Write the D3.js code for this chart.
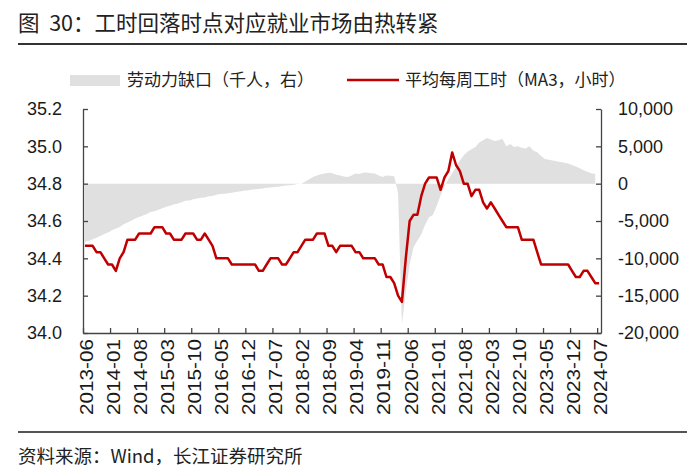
<!DOCTYPE html>
<html>
<head>
<meta charset="utf-8">
<script src="https://cdn.jsdelivr.net/npm/d3@7"></script>
<style>
  body { margin: 0; background: #fff; }
  svg { display: block; }
</style>
</head>
<body>
<div id="chart"></div>
<script>
// first month of the series, one value per month up to 2024-07
const startMonth = '2013-06'

// x tick labels, every 7 months
const tickLabels = [
  '2013-06', '2014-01', '2014-08', '2015-03', '2015-10', '2016-05', '2016-12',
  '2017-07', '2018-02', '2018-09', '2019-04', '2019-11', '2020-06', '2021-01',
  '2021-08', '2022-03', '2022-10', '2023-05', '2023-12', '2024-07'
]

// average weekly hours, 3 month moving average (left axis)
const hours = [
  34.467, 34.467, 34.467, 34.433, 34.433, 34.4, 34.367,
  34.367, 34.333, 34.4, 34.433, 34.5, 34.5, 34.5, 34.533, 34.533, 34.533, 34.533, 34.567,
  34.567, 34.567, 34.533, 34.533, 34.5, 34.5, 34.5, 34.533, 34.533, 34.533, 34.5, 34.5,
  34.533, 34.5, 34.467, 34.4, 34.4, 34.4, 34.4, 34.367, 34.367, 34.367, 34.367, 34.367,
  34.367, 34.367, 34.333, 34.333, 34.367, 34.4, 34.4, 34.4, 34.367, 34.367, 34.4, 34.433,
  34.433, 34.467, 34.5, 34.5, 34.5, 34.533, 34.533, 34.533, 34.467, 34.467, 34.433, 34.467,
  34.467, 34.467, 34.467, 34.433, 34.433, 34.4, 34.4, 34.4, 34.4, 34.367, 34.367, 34.3,
  34.3, 34.267, 34.2, 34.167, 34.4, 34.6, 34.633, 34.633, 34.733, 34.8, 34.833, 34.833,
  34.833, 34.767, 34.833, 34.867, 34.967, 34.9, 34.867, 34.8, 34.8, 34.733, 34.767, 34.767,
  34.7, 34.667, 34.7, 34.667, 34.633, 34.6, 34.567, 34.567, 34.567, 34.567, 34.5, 34.5,
  34.5, 34.5, 34.433, 34.367, 34.367, 34.367, 34.367, 34.367, 34.367, 34.367, 34.367, 34.333,
  34.3, 34.3, 34.333, 34.333, 34.3, 34.267, 34.267
]

// labour gap, thousands (right axis); last month not yet out
const labourGap = [
  -7800, -7650, -7450, -7250, -7000, -6750, -6550,
  -6250, -6000, -5800, -5450, -5200, -4950, -4650, -4450, -4250, -4050, -3800, -3700,
  -3500, -3300, -3100, -2950, -2800, -2650, -2500, -2300, -2250, -2100, -2000, -1900,
  -1850, -1700, -1650, -1500, -1400, -1350, -1300, -1200, -1100, -1050, -950, -900,
  -800, -750, -700, -650, -550, -500, -450, -400, -300, -250, -200, -150,
  -50, 0, 300, 600, 900, 1100, 1250, 1350, 1450, 1400, 1200, 1100,
  950, 900, 1100, 1350, 1300, 1450, 1500, 1400, 1350, 1100, 900, 1100,
  1050, 1000, -1300, -18800, -14500, -10800, -8500, -7600, -6800, -5500, -4500, -4200,
  -3000, -1600, -300, 600, 1400, 2200, 3100, 3800, 4300, 4600, 4900, 5500,
  5800, 6100, 5900, 5700, 5800, 6000, 5000, 5300, 4900, 5000, 4800, 4700,
  5000, 4400, 4200, 3700, 3300, 3200, 3100, 3000, 2900, 2800, 2700, 2500,
  2300, 2050, 1800, 1600, 1400, 1300, null
]

const leftTicks = [34.0, 34.2, 34.4, 34.6, 34.8, 35.0, 35.2]
const rightTicks = [-20000, -15000, -10000, -5000, 0, 5000, 10000]

const width = 700
const height = 471

// plot box
const plot = { left: 83, right: 601, top: 109, bottom: 333 }

const n = hours.length
const x = d3.scaleLinear().domain([0, n]).range([plot.left, plot.right])
const yL = d3.scaleLinear().domain([34.0, 35.2]).range([plot.bottom, plot.top])
const yR = d3.scaleLinear().domain([-20000, 10000]).range([plot.bottom, plot.top])

const cjk = '"Noto Sans CJK SC", "Noto Sans", sans-serif'
const latin = '"Liberation Sans", Arial, sans-serif'
const axisColor = '#444'
const red = '#c00000'
const grey = '#e0e0e0'

const svg = d3.select('#chart').append('svg').attr('width', width).attr('height', height)

// ----- title + rules -----
svg.append('text')
  .attr('x', 18).attr('y', 31)
  .attr('font-family', cjk).attr('font-size', 21.5).attr('fill', '#222')
  .attr('xml:space', 'preserve')
  .text('图  30：工时回落时点对应就业市场由热转紧')

svg.append('line').attr('x1', 18).attr('x2', 687).attr('y1', 44).attr('y2', 44)
  .attr('stroke', '#333').attr('stroke-width', 1.8)

svg.append('line').attr('x1', 18).attr('x2', 687).attr('y1', 432).attr('y2', 432)
  .attr('stroke', '#555').attr('stroke-width', 1.8)

svg.append('text')
  .attr('x', 18).attr('y', 457).attr('dy', '0.35em')
  .attr('font-family', cjk).attr('font-size', 18.5).attr('fill', '#222')
  .text('资料来源：Wind，长江证券研究所')

// ----- legend -----
const legend = svg.append('g').attr('font-family', cjk).attr('font-size', 17).attr('fill', '#222')
legend.append('rect').attr('x', 70).attr('y', 75).attr('width', 50).attr('height', 11).attr('fill', grey)
legend.append('text').attr('x', 127).attr('y', 80).attr('dy', '0.35em').text('劳动力缺口（千人，右）')
legend.append('line').attr('x1', 347).attr('x2', 399).attr('y1', 80).attr('y2', 80)
  .attr('stroke', red).attr('stroke-width', 2.5)
legend.append('text').attr('x', 405).attr('y', 80).attr('dy', '0.35em').text('平均每周工时（MA3，小时）')

// ----- series -----
const cx = i => x(i + 0.5)

const area = d3.area()
  .defined(d => d != null)
  .x((d, i) => cx(i))
  .y0(yR(0))
  .y1(d => yR(d))

svg.append('path')
  .datum(labourGap)
  .attr('d', area)
  .attr('fill', grey)

const line = d3.line()
  .x((d, i) => cx(i))
  .y(d => yL(d))

svg.append('path')
  .datum(hours)
  .attr('d', line)
  .attr('fill', 'none')
  .attr('stroke', red)
  .attr('stroke-width', 2.5)
  .attr('stroke-linejoin', 'round')

// ----- axes -----
const locale = d3.formatLocale({ decimal: '.', thousands: ',', grouping: [3], currency: ['', ''], minus: '-' })

function styleAxis (g) {
  g.attr('font-family', latin).attr('font-size', 18)
  g.select('.domain').attr('stroke', axisColor).attr('stroke-width', 1.3)
  g.selectAll('.tick line').attr('stroke', axisColor).attr('stroke-width', 1.3)
  g.selectAll('.tick text').attr('fill', '#1a1a1a')
}

svg.append('g')
  .attr('transform', `translate(${plot.left},0)`)
  .call(d3.axisLeft(yL).tickValues(leftTicks).tickFormat(d3.format('.1f'))
    .tickSizeInner(-5).tickSizeOuter(0).tickPadding(21))
  .call(styleAxis)

svg.append('g')
  .attr('transform', `translate(${plot.right},0)`)
  .call(d3.axisRight(yR).tickValues(rightTicks).tickFormat(locale.format(','))
    .tickSizeInner(-5).tickSizeOuter(0).tickPadding(17))
  .call(styleAxis)

const tickIdx = tickLabels.map((d, i) => i * 7)
const xAxis = svg.append('g')
  .attr('transform', `translate(0,${plot.bottom})`)
  .call(d3.axisBottom(x).tickValues(tickIdx).tickFormat((d, i) => tickLabels[i])
    .tickSizeInner(-5).tickSizeOuter(0))
  .call(styleAxis)

// labels in the reference run a bit longer than the plain font
xAxis.selectAll('.tick text')
  .attr('transform', 'rotate(-90)')
  .attr('text-anchor', 'end')
  .attr('x', -6)
  .attr('y', 3)
  .attr('dy', '0.35em')
  .attr('textLength', 76)
  .attr('lengthAdjust', 'spacingAndGlyphs')
</script>
</body>
</html>
